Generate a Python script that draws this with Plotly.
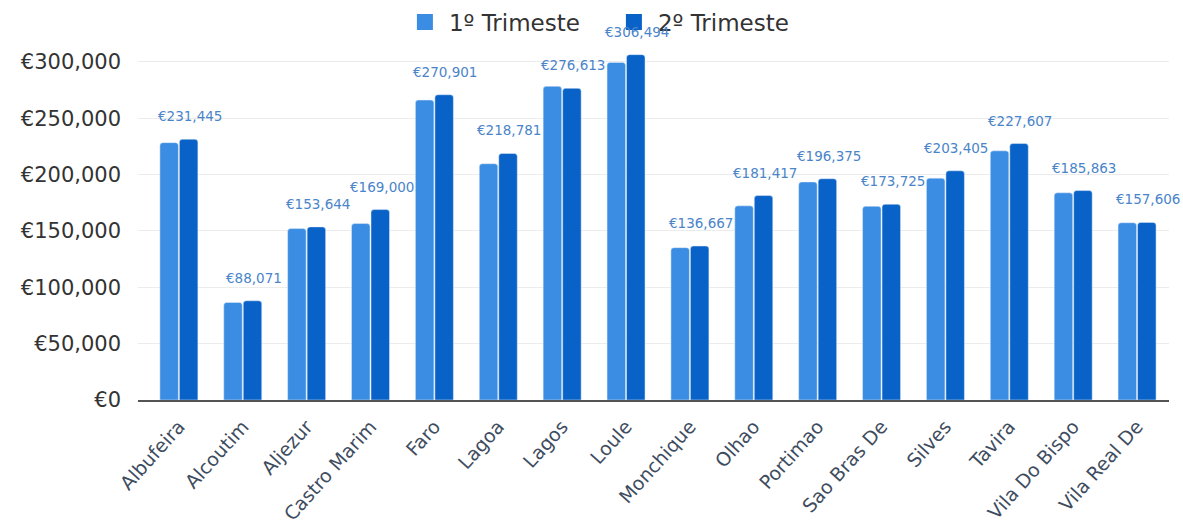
import plotly.graph_objects as go

categories = ["Albufeira", "Alcoutim", "Aljezur", "Castro Marim", "Faro", "Lagoa", "Lagos",
              "Loule", "Monchique", "Olhao", "Portimao", "Sao Bras De", "Silves", "Tavira",
              "Vila Do Bispo", "Vila Real De"]
q1 = [228400, 86600, 152100, 156600, 266200, 209700, 278400, 299600, 135200, 172300,
      193500, 171900, 196900, 221100, 183900, 157300]
q2 = [231445, 88071, 153644, 169000, 270901, 218781, 276613, 306494, 136667, 181417,
      196375, 173725, 203405, 227607, 185863, 157606]
series_names = ["1º Trimeste", "2º Trimeste"]
y_ticks = [0, 50000, 100000, 150000, 200000, 250000, 300000]
y_tick_text = [f"€{v:,}" for v in y_ticks]

C1 = "#3a8de2"
C2 = "#0862c8"
FONT = "DejaVu Sans"

fig = go.Figure()
fig.add_trace(go.Bar(x=categories, y=q1, name=series_names[0], marker=dict(color=C1, cornerradius=3),
                     showlegend=False))
fig.add_trace(go.Bar(x=categories, y=q2, name=series_names[1], marker=dict(color=C2, cornerradius=3),
                     showlegend=False))
# legend entries with square markers
for name, col in zip(series_names, [C1, C2]):
    fig.add_trace(go.Scatter(x=[None], y=[None], mode="markers", name=name,
                             marker=dict(symbol="square", size=22, color=col)))

for c, v in zip(categories, q2):
    fig.add_annotation(x=c, y=v, text=f"€{v:,}", showarrow=False, xshift=11, yshift=23,
                       font=dict(family=FONT, size=13.5, color="#4a84c9"))

fig.update_layout(
    width=1183, height=525,
    margin=dict(l=138, r=14, t=40, b=125, autoexpand=False),
    paper_bgcolor="white", plot_bgcolor="white",
    barmode="group", bargap=0.39, bargroupgap=0.05,
    font=dict(family=FONT, color="#333"),
    legend=dict(orientation="h", x=0.255, xanchor="left", y=1.05, yanchor="middle",
                font=dict(size=23, color="#333"), itemsizing="trace", bgcolor="rgba(0,0,0,0)",
                itemwidth=38, entrywidth=156),
    xaxis=dict(type="category", range=[-0.64, 15.5], tickangle=-48, showline=True, linecolor="#555",
               linewidth=2, ticks="", tickfont=dict(size=19, color="#3e4c60"), showgrid=False,
               ticklabelstandoff=6, automargin=False),
    yaxis=dict(range=[0, 319500], tickvals=y_ticks, ticktext=y_tick_text,
               showgrid=True, gridcolor="#ececec", zeroline=False, ticks="",
               tickfont=dict(size=21, color="#333"), ticklabelstandoff=16, automargin=False),
)

fig.write_html("out.html")
